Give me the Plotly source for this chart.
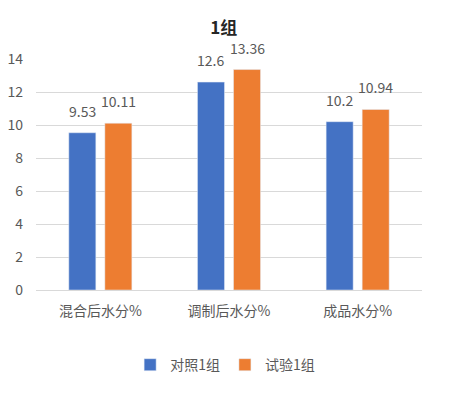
import plotly.graph_objects as go

categories = ["混合后水分%", "调制后水分%", "成品水分%"]
control_vals = [9.53, 12.6, 10.2]
trial_vals = [10.11, 13.36, 10.94]
series_names = ["对照1组", "试验1组"]
y_ticks = [0, 2, 4, 6, 8, 10, 12, 14]

font_family = "Noto Sans CJK SC, Noto Sans, sans-serif"
gray = "#595959"

fig = go.Figure()
fig.add_trace(go.Bar(x=categories, y=control_vals, name=series_names[0],
                     marker_color="#4472C4", offsetgroup="a"))
fig.add_trace(go.Bar(x=categories, y=trial_vals, name=series_names[1],
                     marker_color="#ED7D31", offsetgroup="b"))

# value labels (annotations so they are not shrunk to bar width)
for i, cat in enumerate(categories):
    for vals, xs in ((control_vals, -0.14), (trial_vals, 0.14)):
        fig.add_annotation(x=i + xs, y=vals[i], xref="x", yref="y",
                           text=str(vals[i]), showarrow=False, yshift=22,
                           font=dict(size=14, color=gray))

fig.update_layout(
    width=450, height=393,
    margin=dict(l=36, r=28, t=59, b=101),
    paper_bgcolor="white", plot_bgcolor="white",
    font=dict(family=font_family, color=gray, size=13),
    title=dict(text="<b>1组</b>", x=0.497, xanchor="center", y=1 - 28/393, yanchor="middle",
               font=dict(size=17, color="#262626")),
    barmode="group", bargap=0.44, bargroupgap=0.25,
    showlegend=True,
    legend=dict(orientation="h", x=0.49, xanchor="center", y=-0.325, yanchor="middle",
                itemwidth=30, font=dict(size=14, color=gray)),
    xaxis=dict(showgrid=False, showline=True, linecolor="#D9D9D9", ticks="",
               tickfont=dict(size=14, color=gray), ticklabelstandoff=8, automargin=False),
    yaxis=dict(range=[0, 14], tickvals=y_ticks, showgrid=True, gridcolor="#D9D9D9",
               zeroline=False, ticks="", tickfont=dict(size=14, color=gray),
               ticklabelstandoff=12, automargin=False),
)

fig.write_html("out.html")
